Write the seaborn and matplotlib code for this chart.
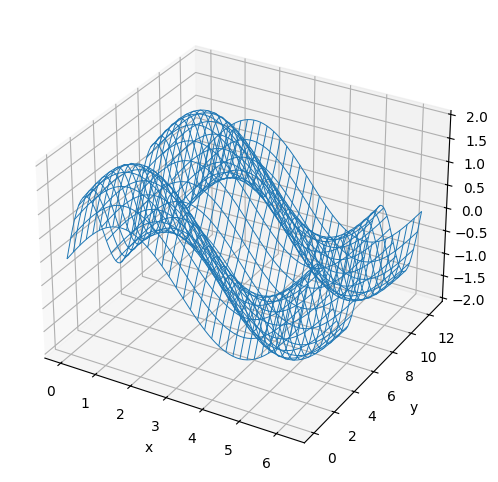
import numpy as np
import seaborn as sns
import matplotlib
matplotlib.use("Agg")
import matplotlib.pyplot as plt

# grid positions along each axis
x_vals = [0.000, 0.095, 0.190, 0.286, 0.381, 0.476, 0.571, 0.666, 0.762, 0.857, 0.952, 1.047,
          1.142, 1.238, 1.333, 1.428, 1.523, 1.618, 1.714, 1.809, 1.904, 1.999, 2.094, 2.190,
          2.285, 2.380, 2.475, 2.570, 2.666, 2.761, 2.856, 2.951, 3.046, 3.142, 3.237, 3.332,
          3.427, 3.522, 3.618, 3.713, 3.808, 3.903, 3.998, 4.094, 4.189, 4.284, 4.379, 4.474,
          4.570, 4.665, 4.760, 4.855, 4.950, 5.046, 5.141, 5.236, 5.331, 5.426, 5.522, 5.617,
          5.712, 5.807, 5.902, 5.998, 6.093, 6.188, 6.283]
y_vals = [0.000, 0.190, 0.381, 0.571, 0.762, 0.952, 1.142, 1.333, 1.523, 1.714, 1.904, 2.094,
          2.285, 2.475, 2.666, 2.856, 3.046, 3.237, 3.427, 3.618, 3.808, 3.998, 4.189, 4.379,
          4.570, 4.760, 4.950, 5.141, 5.331, 5.522, 5.712, 5.902, 6.093, 6.283, 6.474, 6.664,
          6.854, 7.045, 7.235, 7.426, 7.616, 7.806, 7.997, 8.187, 8.378, 8.568, 8.758, 8.949,
          9.139, 9.330, 9.520, 9.710, 9.901, 10.091, 10.282, 10.472, 10.662, 10.853, 11.043, 11.234,
          11.424, 11.614, 11.805, 11.995, 12.186, 12.376, 12.566]

# height profile read along x and along y, the surface is their sum
z_along_x = [0.000, 0.095, 0.189, 0.282, 0.372, 0.458, 0.541, 0.618, 0.690, 0.756, 0.815, 0.866,
             0.910, 0.945, 0.972, 0.990, 0.999, 0.999, 0.990, 0.972, 0.945, 0.910, 0.866, 0.815,
             0.756, 0.690, 0.618, 0.541, 0.458, 0.372, 0.282, 0.189, 0.095, 0.000, -0.095, -0.189,
             -0.282, -0.372, -0.458, -0.541, -0.618, -0.690, -0.756, -0.815, -0.866, -0.910, -0.945, -0.972,
             -0.990, -0.999, -0.999, -0.990, -0.972, -0.945, -0.910, -0.866, -0.815, -0.756, -0.690, -0.618,
             -0.541, -0.458, -0.372, -0.282, -0.189, -0.095, 0.000]
z_along_y = [0.000, 0.189, 0.372, 0.541, 0.690, 0.815, 0.910, 0.972, 0.999, 0.990, 0.945, 0.866,
             0.756, 0.618, 0.458, 0.282, 0.095, -0.095, -0.282, -0.458, -0.618, -0.756, -0.866, -0.945,
             -0.990, -0.999, -0.972, -0.910, -0.815, -0.690, -0.541, -0.372, -0.189, 0.000, 0.189, 0.372,
             0.541, 0.690, 0.815, 0.910, 0.972, 0.999, 0.990, 0.945, 0.866, 0.756, 0.618, 0.458,
             0.282, 0.095, -0.095, -0.282, -0.458, -0.618, -0.756, -0.866, -0.945, -0.990, -0.999, -0.972,
             -0.910, -0.815, -0.690, -0.541, -0.372, -0.189, 0.000]

color = sns.color_palette("tab10")[0]

X, Y = np.meshgrid(x_vals, y_vals)
Z = np.add.outer(z_along_y, z_along_x)

fig = plt.figure(figsize=(6, 6))
ax = fig.add_subplot(111, projection="3d")
ax.plot_wireframe(X, Y, Z, rstride=2, cstride=2, color=color, linewidth=0.7)
ax.set_xlabel("x")
ax.set_ylabel("y")

plt.savefig("out.png", dpi=100, bbox_inches="tight")
